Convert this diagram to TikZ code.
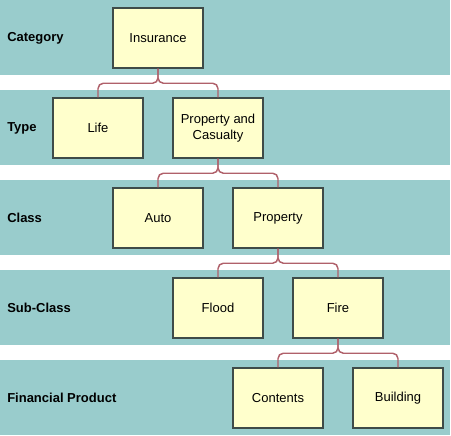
\documentclass[tikz,border=0pt]{standalone}
\usepackage{fontspec}
\setmainfont{Liberation Sans}
\usetikzlibrary{positioning}

\definecolor{bandcol}{HTML}{99CCCC}
\definecolor{boxcol}{HTML}{FFFFCC}
\definecolor{boxline}{HTML}{3F4B48}
\definecolor{linkcol}{HTML}{B0606A}

\begin{document}
\begin{tikzpicture}[
            x = 0.75pt, y = -0.75pt, % one unit is one pixel
            font = \fontsize{9.75}{11.75}\selectfont,
            band/.style = {fill = bandcol},
            level/.style = {anchor = west, inner sep = 0pt, font = \fontsize{9.75}{11.75}\selectfont\bfseries},
            box/.style = {draw = boxline, line width = 1.1pt, fill = boxcol,
                          minimum width = 67.5pt, minimum height = 45pt,
                          align = center, inner sep = 0pt},
            link/.style = {draw = linkcol, line width = 1.1pt, rounded corners = 4pt}
        ]

        \useasboundingbox (0,0) rectangle (451,436);

        % level bands
        \foreach \top in {0, 90, 180, 270, 360}
            \fill[band] (0,\top) rectangle (450,\top+75);

        \node[level] (lcat)  at (7,38)  {Category};
        \node[level] (ltype) at (7,128) {Type};
        \node[level] (lcls)  at (7,218) {Class};
        \node[level] (lsub)  at (7,308) {Sub-Class};
        \node[level] (lfin)  at (7,398) {Financial Product};

        % tree
        \node[box] (ins)   at (158,38)  {Insurance};

        \node[box] (life)  at (98,128)  {Life};
        \node[box] (pc)    at (218,128) {Property and\\Casualty};

        \node[box] (auto)  at (158,218) {Auto};
        \node[box] (prop)  at (278,218) {Property};

        \node[box] (flood) at (218,308) {Flood};
        \node[box] (fire)  at (338,308) {Fire};

        \node[box] (cont)  at (278,398) {Contents};
        \node[box] (bldg)  at (398,398) {Building};

        \foreach \p/\c in {ins/life, ins/pc, pc/auto, pc/prop,
                           prop/flood, prop/fire, fire/cont, fire/bldg}
            \draw[link] (\p.south) -- ++(0,14.5) -| (\c.north);

\end{tikzpicture}
\end{document}
